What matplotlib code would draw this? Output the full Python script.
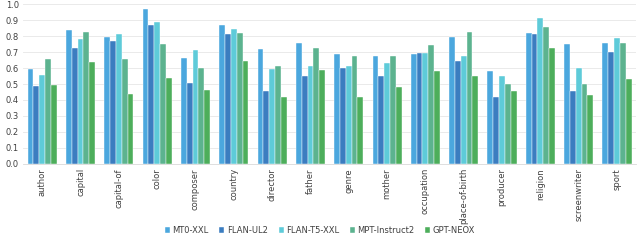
import matplotlib
matplotlib.use("Agg")
import matplotlib.pyplot as plt
import numpy as np

categories = ['author', 'capital', 'capital-of', 'color', 'composer', 'country',
              'director', 'father', 'genre', 'mother', 'occupation',
              'place-of-birth', 'producer', 'religion', 'screenwriter', 'sport']
models = ['MT0-XXL', 'FLAN-UL2', 'FLAN-T5-XXL', 'MPT-Instruct2', 'GPT-NEOX']

mt0 = [0.594, 0.839, 0.797, 0.967, 0.665, 0.868, 0.720, 0.755, 0.690, 0.678,
       0.690, 0.797, 0.584, 0.822, 0.751, 0.755]
flan_ul2 = [0.487, 0.726, 0.772, 0.872, 0.508, 0.812, 0.458, 0.550, 0.603, 0.552,
            0.697, 0.644, 0.416, 0.812, 0.458, 0.701]
flan_t5 = [0.559, 0.782, 0.810, 0.887, 0.713, 0.845, 0.596, 0.613, 0.613, 0.630,
           0.692, 0.674, 0.548, 0.916, 0.600, 0.785]
mpt = [0.655, 0.826, 0.655, 0.749, 0.600, 0.822, 0.613, 0.728, 0.678, 0.674,
       0.743, 0.828, 0.498, 0.854, 0.498, 0.755]
neox = [0.494, 0.640, 0.439, 0.536, 0.462, 0.644, 0.418, 0.588, 0.420, 0.483,
        0.582, 0.552, 0.454, 0.726, 0.429, 0.529]

series = [mt0, flan_ul2, flan_t5, mpt, neox]
colors = ['#4BA7DE', '#3B7DC0', '#5ECBD9', '#5CB38F', '#4DAE5B']

plt.rcParams['font.family'] = ['DejaVu Sans']
fig = plt.figure(figsize=(6.4, 2.4), dpi=100)
ax = fig.add_axes([0.036, 0.317, 0.958, 0.666])

x = np.arange(len(categories))
w = 0.152
for i, (vals, c, name) in enumerate(zip(series, colors, models)):
    ax.bar(x + (i - 2) * w, vals, w, color=c, label=name,
           edgecolor='white', linewidth=0.3)

ax.set_xlim(-0.5, len(categories) - 0.5)
ax.set_ylim(0, 1.0)
ax.set_yticks(np.arange(0, 1.01, 0.1))
ax.set_yticklabels([f'{v:.1f}' for v in np.arange(0, 1.01, 0.1)], fontsize=6, color='#404040')
ax.set_xticks(x)
ax.set_xticklabels(categories, rotation=90, fontsize=6, color='#404040')
ax.tick_params(length=0, pad=3)
ax.grid(axis='y', color='#E6E6E6', linewidth=0.6)
ax.set_axisbelow(True)
for s in ['top', 'right', 'left']:
    ax.spines[s].set_visible(False)
ax.spines['bottom'].set_color('#D9D9D9')
ax.spines['bottom'].set_linewidth(0.6)

fig.legend(loc='lower center', ncol=5, bbox_to_anchor=(0.5, -0.01), frameon=False,
           fontsize=6, handlelength=0.6, handleheight=0.6, handletextpad=0.3,
           columnspacing=1.3, labelcolor='#404040')

fig.savefig('out.png', dpi=100)
